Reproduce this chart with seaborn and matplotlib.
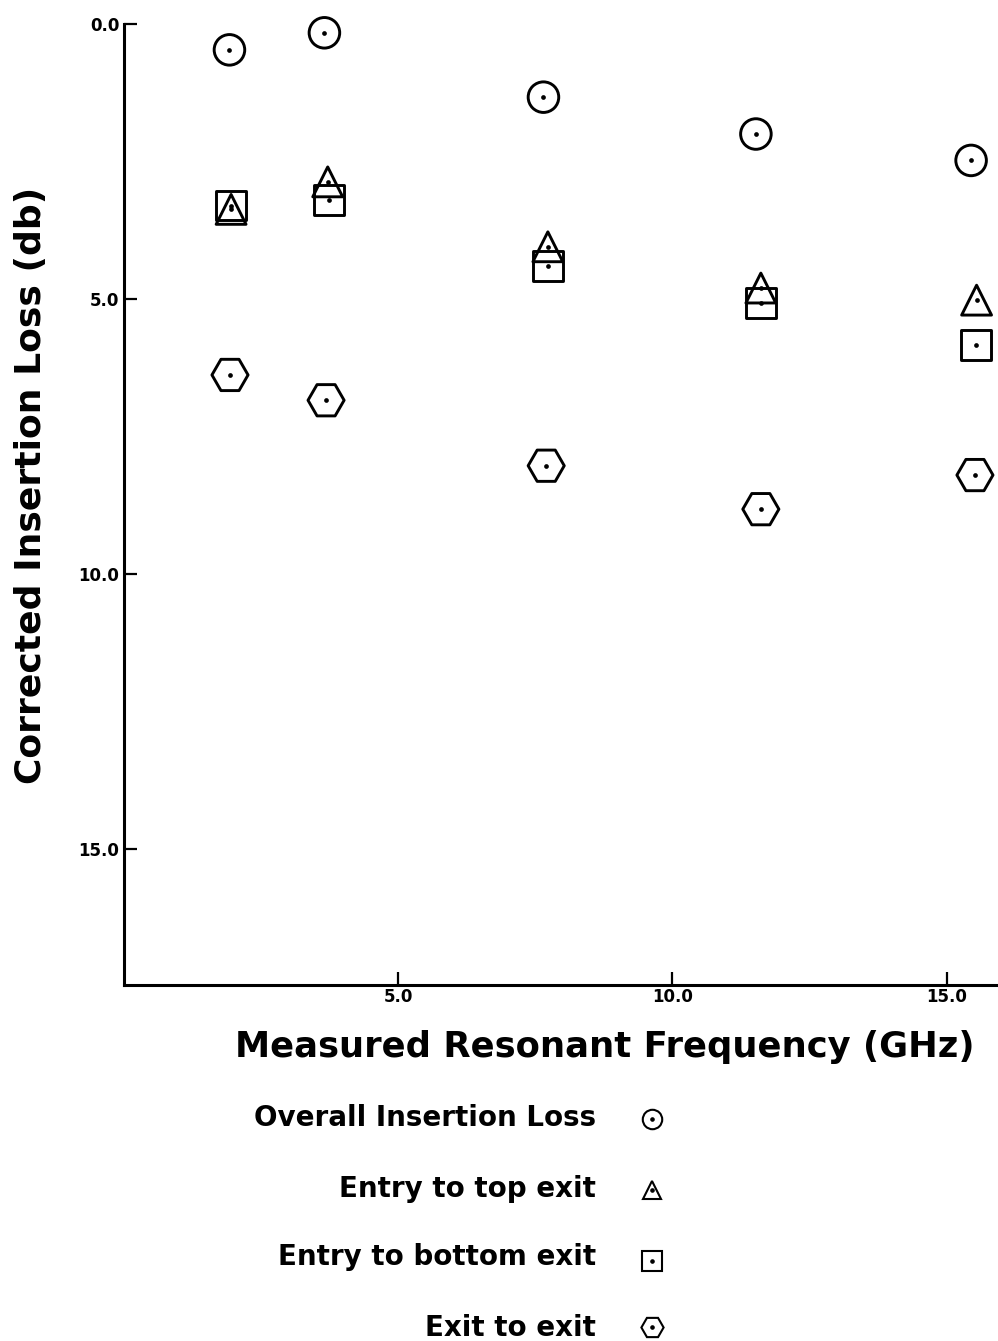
import matplotlib
matplotlib.use("Agg")
import matplotlib.pyplot as plt
import pandas as pd
import seaborn as sns
from matplotlib.ticker import FixedLocator, FormatStrFormatter

# Measured resonant frequency (GHz) and corrected insertion loss (dB)
freq_overall = [1.93, 3.66, 7.65, 11.52, 15.44]
loss_overall = [0.47, 0.16, 1.33, 2.00, 2.48]

freq_top = [1.96, 3.72, 7.73, 11.61, 15.54]
loss_top = [3.37, 2.87, 4.05, 4.80, 5.02]

freq_bottom = [1.96, 3.75, 7.73, 11.61, 15.53]
loss_bottom = [3.30, 3.20, 4.40, 5.07, 5.83]

freq_exit = [1.94, 3.69, 7.70, 11.61, 15.51]
loss_exit = [6.38, 6.84, 8.03, 8.82, 8.20]

series_labels = ["Overall Insertion Loss", "Entry to top exit",
                 "Entry to bottom exit", "Exit to exit"]
x_ticks = [5.0, 10.0, 15.0]
y_ticks = [0.0, 5.0, 10.0, 15.0]

sns.set_theme(style="white")
plt.rcParams["font.family"] = ["DejaVu Sans"]
plt.rcParams["font.weight"] = "bold"

W, H = 998, 1341
fig = plt.figure(figsize=(W / 100, H / 100), dpi=100)
fig.patch.set_facecolor("white")

left_px, right_px, top_px, bottom_px = 123.5, 998, 24, 985
ax = fig.add_axes([left_px / W, 1 - bottom_px / H,
                   (right_px - left_px) / W, (bottom_px - top_px) / H])
ax.set_facecolor("white")

styles = [("o", 22.0), ("^", 21.5), ("s", 21.5), ("H", 26.0)]
data = [(freq_overall, loss_overall), (freq_top, loss_top),
        (freq_bottom, loss_bottom), (freq_exit, loss_exit)]

for (xs, ys), (mk, ms), lab in zip(data, styles, series_labels):
    df = pd.DataFrame({"freq": xs, "loss": ys})
    sns.scatterplot(data=df, x="freq", y="loss", marker=mk, s=ms ** 2,
                    color="black", facecolor="none", edgecolor="black",
                    linewidth=2.1, ax=ax, legend=False, zorder=3,
                    clip_on=False)
    sns.scatterplot(data=df, x="freq", y="loss", marker="o", s=3.4 ** 2,
                    color="black", edgecolor="black", linewidth=0,
                    ax=ax, legend=False, zorder=4, clip_on=False)

ax.set_xlim(0, 15.93)
ax.set_ylim(17.47, 0)

ax.xaxis.set_major_locator(FixedLocator(x_ticks))
ax.yaxis.set_major_locator(FixedLocator(y_ticks))
ax.xaxis.set_major_formatter(FormatStrFormatter("%.1f"))
ax.yaxis.set_major_formatter(FormatStrFormatter("%.1f"))
ax.tick_params(axis="both", direction="in", length=9.5, width=1.6,
               color="black", labelsize=12, labelcolor="black", pad=3)
ax.tick_params(axis="x", bottom=True, pad=2)
ax.tick_params(axis="y", left=True, pad=3)
for t in ax.get_xticklabels() + ax.get_yticklabels():
    t.set_fontweight("bold")

for side in ("top", "right"):
    ax.spines[side].set_visible(False)
for side in ("left", "bottom"):
    ax.spines[side].set_visible(True)
    ax.spines[side].set_color("black")
    ax.spines[side].set_linewidth(2.2)

ax.set_xlabel("Measured Resonant Frequency (GHz)", fontsize=25.5,
              fontweight="bold", color="black", ha="center", va="baseline")
ax.xaxis.set_label_coords(0.5506, -0.0749)
ax.set_ylabel("Corrected Insertion Loss (db)", fontsize=26,
              fontweight="bold", color="black", ha="center", va="center")
ax.yaxis.set_label_coords(-0.1058, 0.5203)

# Key below the plot: right-aligned labels with the marker to their right
lax = fig.add_axes([0, 0, 1, 268 / H])
lax.set_xlim(0, W)
lax.set_ylim(268, 0)
lax.axis("off")
key_top = H - 268
text_right = 596
marker_x = 652
baselines = [1125.5, 1197, 1265, 1336.5]
centers = [1119, 1190, 1261, 1327]
key_sizes = [14.0, 13.5, 14.0, 16.0]
for lab, (mk, _), bl, cy, ks in zip(series_labels, styles, baselines,
                                    centers, key_sizes):
    lax.text(text_right, bl - key_top, lab, ha="right", va="baseline",
             fontsize=20, fontweight="bold", color="black")
    lax.plot([marker_x], [cy - key_top], marker=mk, markersize=ks,
             markerfacecolor="none", markeredgecolor="black",
             markeredgewidth=1.5, linestyle="none", clip_on=False)
    lax.plot([marker_x], [cy - key_top], marker="o", markersize=2.3,
             color="black", linestyle="none", clip_on=False)

fig.savefig("out.png", dpi=100, facecolor="white")
